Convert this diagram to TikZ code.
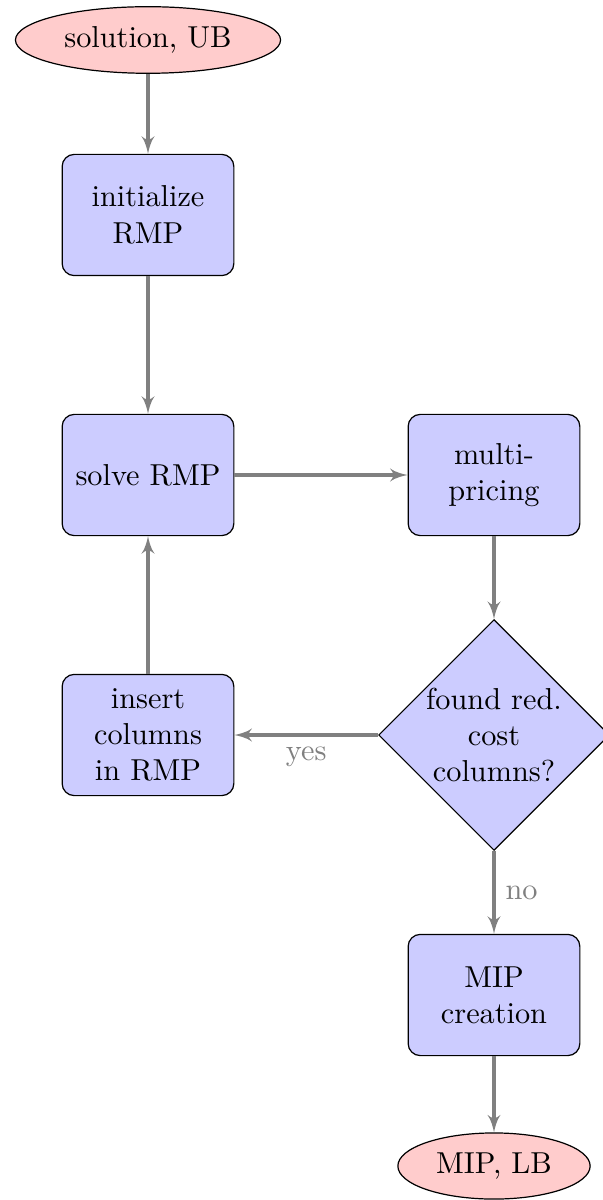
\documentclass[tikz,border=0pt]{standalone}
\usetikzlibrary{shapes.geometric,arrows}
\begin{document}
\begin{tikzpicture}[x=0.33pt,y=-0.33pt,
  decision/.style={diamond, draw, fill=blue!20, text width=4.5em, align=center, inner sep=0pt},
  block/.style={rectangle, draw, fill=blue!20, text width=5em, align=center, rounded corners, minimum height=4em},
  cloud/.style={draw, ellipse, fill=red!20, minimum height=2em},
  line/.style={draw=gray, line width=1pt, -latex'},
  lbl/.style={text=gray}]
  \useasboundingbox (0,0) rectangle (602,1200);
  \node[cloud] (start) at (148,40) {solution, UB};
  \node[block] (init) at (148,215) {initialize\\RMP};
  \node[block] (solve) at (148,475) {solve RMP};
  \node[block] (pricing) at (494,475) {multi-\\pricing};
  \node[decision] (found) at (494,735) {found red.\\cost\\columns?};
  \node[block] (insert) at (148,735) {insert\\columns\\in RMP};
  \node[block] (mip) at (494,995) {MIP\\creation};
  \node[cloud] (final) at (494,1166) {MIP, LB};

  \path[line] (start) -- (init);
  \path[line] (init) -- (solve);
  \path[line] (solve) -- (pricing);
  \path[line] (pricing) -- (found);
  \path[line] (found) -- node[lbl, below] {yes} (insert);
  \path[line] (insert) -- (solve);
  \path[line] (found) -- node[lbl, right] {no} (mip);
  \path[line] (mip) -- (final);
\end{tikzpicture}
\end{document}
